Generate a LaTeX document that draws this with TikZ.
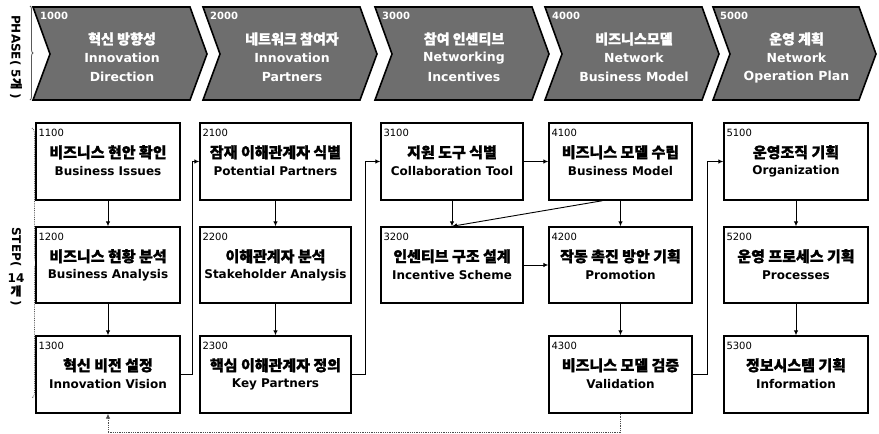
\documentclass[tikz,border=0pt]{standalone}
\usepackage{fontspec}
\setmainfont{DejaVu Sans}
\newfontfamily\kr{Noto Sans CJK KR}[BoldFeatures={FakeBold=1.2}]
\usetikzlibrary{arrows.meta,decorations.pathreplacing}

\tikzset{
 box/.style={draw=black, line width=1.4pt, fill=white, inner sep=0pt, rectangle},
 numtxt/.style={inner sep=0pt, anchor=base west, font=\fontsize{10}{12}\selectfont},
 kortxt/.style={inner sep=0pt, font=\kr\bfseries\fontsize{15}{18}\selectfont},
 engtxt/.style={inner sep=0pt, font=\bfseries\fontsize{12}{14}\selectfont},
 chev/.style={fill=black!57, draw=black, line width=1.6pt, line join=miter},
 chnum/.style={inner sep=0pt, anchor=base west, text=white, font=\bfseries\fontsize{10}{12}\selectfont},
 chkor/.style={inner sep=0pt, text=white, font=\kr\bfseries\fontsize{14}{16}\selectfont},
 cheng/.style={inner sep=0pt, text=white, font=\bfseries\fontsize{12.5}{14}\selectfont},
 arr/.style={-{Latex[length=5pt,width=4.5pt]}, line width=0.9pt},
 dotarr/.style={-{Latex[length=5pt,width=4.5pt]}, line width=0.8pt, densely dotted, black!70},
 lbl/.style={inner sep=0pt, font=\bfseries\fontsize{12}{14}\selectfont},
 brc/.style={black!65, line width=0.8pt, decorate},
}

\newcommand\mkstep[7]{%
 \node[box, minimum width=#4pt, minimum height=#5pt] (s#1) at (#2,#3) {};
 \node[numtxt] (n#1) at ([shift={(3,14)}]s#1.north west) {#1};
 \node[kortxt] (k#1) at ([shift={(0,30)}]s#1.north) {#6};
 \node[engtxt] (e#1) at ([shift={(0,49)}]s#1.north) {#7};
}
\newcommand\mkchev[6]{%
 \draw[chev] (#2,7) -- (#3,7) -- (#3+17,54) -- (#3,100) -- (#2,100) -- (#2+17,54) -- cycle;
 \node[chnum] (h#1) at (#2+7,19) {#1};
 \node[chkor] (hk#1) at ({(#2+#3+17)/2+2},39) {#4};
 \node[cheng] (ha#1) at ({(#2+#3+17)/2+2},58) {#5};
 \node[cheng] (hb#1) at ({(#2+#3+17)/2+2},77) {#6};
}

\begin{document}
\begin{tikzpicture}[x=1pt,y=-1pt]
\useasboundingbox (0,0) rectangle (879,434);

% phases
\mkchev{1000}{33}{190}{혁신 방향성}{Innovation}{Direction}
\mkchev{2000}{203}{360}{네트워크 참여자}{Innovation}{Partners}
\mkchev{3000}{375}{532}{참여 인센티브}{Networking}{Incentives}
\mkchev{4000}{545}{702}{비즈니스모델}{Network}{Business Model}
\mkchev{5000}{713}{859}{운영 계획}{Network}{Operation Plan}

% left labels
\node[lbl, rotate=-90] (phase) at (16,57) {PHASE( 5{\kr 개} )};
\draw[brc, decoration={brace, amplitude=3pt}] (30,6) -- (30,100);

\node[lbl, rotate=-90] (stepa) at (16,247) {STEP(};
\node[lbl] (stepb) at (16,278) {14};
\node[lbl] (stepc) at (16,291) {\kr 개};
\node[lbl, rotate=-90] (stepd) at (16,303) {)};
\draw[brc, densely dotted, decoration={brace, amplitude=5pt}] (32,128) -- (32,398);

% steps
\mkstep{1100}{108}{161.5}{144}{77}{비즈니스 현안 확인}{Business Issues}
\mkstep{1200}{108}{265}{144}{76}{비즈니스 현황 분석}{Business Analysis}
\mkstep{1300}{108}{374.5}{144}{77}{혁신 비전 설정}{Innovation Vision}

\mkstep{2100}{275.5}{161.5}{151}{77}{잠재 이해관계자 식별}{Potential Partners}
\mkstep{2200}{275.5}{265}{151}{76}{이해관계자 분석}{Stakeholder Analysis}
\mkstep{2300}{275.5}{374.5}{151}{77}{핵심 이해관계자 정의}{Key Partners}

\mkstep{3100}{452}{161.5}{142}{77}{지원 도구 식별}{Collaboration Tool}
\mkstep{3200}{452}{265}{142}{76}{인센티브 구조 설계}{Incentive Scheme}

\mkstep{4100}{620.5}{161.5}{143}{77}{비즈니스 모델 수립}{Business Model}
\mkstep{4200}{620.5}{265}{143}{76}{작동 촉진 방안 기획}{Promotion}
\mkstep{4300}{620.5}{374.5}{143}{77}{비즈니스 모델 검증}{Validation}

\mkstep{5100}{796}{161.5}{144}{77}{운영조직 기획}{Organization}
\mkstep{5200}{796}{265}{144}{76}{운영 프로세스 기획}{Processes}
\mkstep{5300}{796}{374.5}{144}{77}{정보시스템 기획}{Information}

% connectors
\draw[arr] (s1100) -- (s1200);
\draw[arr] (s1200) -- (s1300);
\draw[arr] (s2100) -- (s2200);
\draw[arr] (s2200) -- (s2300);
\draw[arr] (s3100) -- (s3200);
\draw[arr] (s4100) -- (s4200);
\draw[arr] (s4200) -- (s4300);
\draw[arr] (s5100) -- (s5200);
\draw[arr] (s5200) -- (s5300);
\draw[arr] (s3100) -- (s4100);
\draw[arr] (s3200) -- (s4200);
\draw[arr] ([xshift=-18pt]s4100.south) -- (s3200.north);
\draw[arr] (s1300.east) -- ++(12,0) |- (s2100.west);
\draw[arr] (s2300.east) -- ++(14,0) |- (s3100.west);
\draw[arr] (s4300.east) -- ++(15,0) |- (s5100.west);
\draw[dotarr] (s4300.south) -- ++(0,19) -| (s1300.south);
\end{tikzpicture}
\end{document}
